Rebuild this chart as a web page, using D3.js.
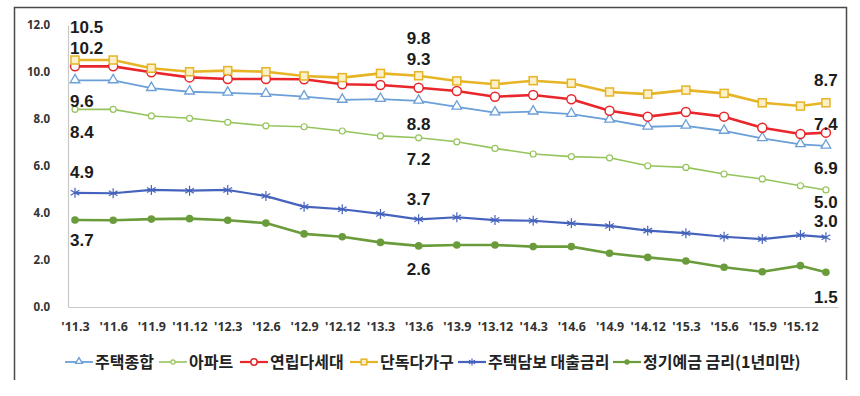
<!DOCTYPE html>
<html>
<head>
<meta charset="utf-8">
<script src="https://cdn.jsdelivr.net/npm/d3@7"></script>
<style>
    body { margin: 0; background: #fff; }
    text { font-family: "Noto Sans", "Noto Sans CJK KR", sans-serif; }
    .axis text { font-weight: bold; fill: #333; }
    .y.axis text { font-size: 11.5px; }
    .x.axis text { font-size: 12.5px; }
    .axis path { stroke: #c8c8c8; stroke-width: 1.2; }
    .value-label { font-family: "Liberation Sans", Arial, sans-serif; font-size: 17px; font-weight: bold; fill: #1c1c1c; }
    .legend text { font-family: "Noto Sans CJK KR", sans-serif; font-size: 16px; font-weight: bold; fill: #222; }
</style>
</head>
<body>
<div class="chart-container"></div>
<script>
// Data
const dates = [
    '2011-03', '2011-06', '2011-09', '2011-12', '2012-03', '2012-06', '2012-09',
    '2012-12', '2013-03', '2013-06', '2013-09', '2013-12', '2014-03', '2014-06',
    '2014-09', '2014-12', '2015-03', '2015-06', '2015-09', '2015-12', '2016-02'
];
const tickLabels = [
    "'11.3", "'11.6", "'11.9", "'11.12", "'12.3", "'12.6", "'12.9", "'12.12",
    "'13.3", "'13.6", "'13.9", "'13.12", "'14.3", "'14.6", "'14.9", "'14.12",
    "'15.3", "'15.6", "'15.9", "'15.12"
];
const seriesNames = ['주택종합', '아파트', '연립다세대', '단독다가구', '주택담보 대출금리', '정기예금 금리(1년미만)'];

const housingTotal = [9.64, 9.64, 9.31, 9.16, 9.11, 9.06, 8.95, 8.81, 8.85, 8.77, 8.52, 8.27, 8.31, 8.21, 7.96, 7.67, 7.71, 7.49, 7.18, 6.92, 6.86];
const apartment = [8.41, 8.41, 8.13, 8.03, 7.86, 7.71, 7.67, 7.49, 7.28, 7.20, 7.03, 6.75, 6.51, 6.40, 6.35, 6.01, 5.94, 5.66, 5.45, 5.16, 4.98];
const rowHouse = [10.24, 10.24, 9.99, 9.77, 9.70, 9.70, 9.69, 9.48, 9.45, 9.33, 9.19, 8.95, 9.02, 8.84, 8.35, 8.10, 8.30, 8.10, 7.63, 7.36, 7.42];
const detached = [10.51, 10.51, 10.16, 10.01, 10.06, 10.01, 9.83, 9.76, 9.94, 9.84, 9.62, 9.48, 9.63, 9.52, 9.15, 9.06, 9.23, 9.09, 8.69, 8.55, 8.69];
const mortgageRate = [4.86, 4.84, 4.98, 4.95, 4.98, 4.72, 4.27, 4.16, 3.96, 3.73, 3.82, 3.70, 3.67, 3.56, 3.45, 3.25, 3.14, 2.99, 2.89, 3.06, 2.97];
const depositRate = [3.70, 3.69, 3.74, 3.76, 3.69, 3.57, 3.11, 2.99, 2.75, 2.60, 2.64, 2.64, 2.57, 2.57, 2.29, 2.11, 1.96, 1.69, 1.50, 1.76, 1.48];

// points that carry a value label
const labelIndex = [0, 9, 20];

// Styles
const series = [
    { values: housingTotal, color: '#6a9fd8', width: 1.8, marker: 'triangle', labelDy: [20, 23, 22], legendX: 65 },
    { values: apartment, color: '#95c45c', width: 1.6, marker: 'smallCircle', labelDy: [23, 21, 11.5], legendX: 159 },
    { values: rowHouse, color: '#e8262b', width: 2.6, marker: 'circle', labelDy: [-18.5, -29, -9], legendX: 240 },
    { values: detached, color: '#e6b425', width: 2.6, marker: 'square', labelDy: [-33, -38, -23], legendX: 350 },
    { values: mortgageRate, color: '#4563bd', width: 2.2, marker: 'asterisk', labelDy: [-21, -20, -16], legendX: 458 },
    { values: depositRate, color: '#6b9c3c', width: 2.6, marker: 'dot', labelDy: [20, 23, 25], legendX: 613 }
];
series.forEach((s, i) => { s.name = seriesNames[i]; });

const monthIndex = dates.map(d => {
    const [y, m] = d.split('-').map(Number);
    return (y - 2011) * 12 + (m - 3);
});

const svgWidth = 860;
const svgHeight = 396;

const svg = d3.select('.chart-container')
    .append('svg')
    .attr('width', svgWidth)
    .attr('height', svgHeight);

// Frame (open at the bottom, as in the source image)
svg.append('path')
    .attr('d', 'M14.5,380V7.5H846.5V380')
    .attr('fill', 'none')
    .attr('stroke', '#4a4a4a')
    .attr('stroke-width', 1.5);

// Scales
const xScale = d3.scaleLinear().domain([-0.55, 59.95]).range([68, 838]);
const yScale = d3.scaleLinear().domain([0, 12]).range([307, 25]);

// Axes
const xAxis = d3.axisBottom(xScale)
    .tickValues(tickLabels.map((d, i) => i * 3))
    .tickFormat((d, i) => tickLabels[i])
    .tickSize(0)
    .tickPadding(15);
svg.append('g')
    .attr('class', 'x axis')
    .attr('transform', 'translate(0,' + yScale(0) + ')')
    .call(xAxis);

const yAxis = d3.axisLeft(yScale)
    .tickValues(d3.range(0, 13, 2))
    .tickFormat(d3.format('.1f'))
    .tickSize(0)
    .tickPadding(18);
svg.append('g')
    .attr('class', 'y axis')
    .attr('transform', 'translate(' + xScale.range()[0] + ',0)')
    .call(yAxis);

// Markers
function drawMarker(g, type, color, x, y, scale) {
    const k = scale || 1;
    if (type === 'triangle') {
        g.append('path')
            .attr('d', d3.symbol(d3.symbolTriangle, 40 * k * k)())
            .attr('transform', 'translate(' + x + ',' + (y - 0.5) + ')')
            .attr('fill', '#fff').attr('stroke', color).attr('stroke-width', 1.3);
    } else if (type === 'smallCircle') {
        g.append('circle').attr('cx', x).attr('cy', y).attr('r', 3 * k)
            .attr('fill', '#fff').attr('stroke', color).attr('stroke-width', 1.2);
    } else if (type === 'circle') {
        g.append('circle').attr('cx', x).attr('cy', y).attr('r', 4.5 * k)
            .attr('fill', '#fff').attr('stroke', color).attr('stroke-width', 1.5);
    } else if (type === 'square') {
        const s = 8 * k;
        g.append('rect').attr('x', x - s / 2).attr('y', y - s / 2).attr('width', s).attr('height', s)
            .attr('fill', '#fbf0c8').attr('stroke', color).attr('stroke-width', 1.5);
    } else if (type === 'asterisk') {
        g.append('path')
            .attr('d', d3.symbol(d3.symbolAsterisk, 70 * k * k)())
            .attr('transform', 'translate(' + x + ',' + y + ')')
            .attr('fill', 'none').attr('stroke', color).attr('stroke-width', 1.2);
    } else if (type === 'dot') {
        g.append('circle').attr('cx', x).attr('cy', y).attr('r', 3.8 * k)
            .attr('fill', color);
    }
}

// Lines
const line = d3.line()
    .x((d, i) => xScale(monthIndex[i]))
    .y(d => yScale(d));

series.forEach(s => {
    const g = svg.append('g').attr('class', 'series');
    g.append('path')
        .datum(s.values)
        .attr('d', line)
        .attr('fill', 'none')
        .attr('stroke', s.color)
        .attr('stroke-width', s.width)
        .attr('stroke-linejoin', 'round');
    s.values.forEach((v, i) => {
        drawMarker(g, s.marker, s.color, xScale(monthIndex[i]), yScale(v));
    });
});

// Value labels
series.forEach(s => {
    labelIndex.forEach((idx, j) => {
        const first = j === 0;
        svg.append('text')
            .attr('class', 'value-label')
            .attr('x', xScale(monthIndex[idx]) + (first ? -5 : 0))
            .attr('y', yScale(s.values[idx]) + s.labelDy[j])
            .attr('dy', '0.36em')
            .attr('text-anchor', first ? 'start' : 'middle')
            .text(d3.format('.1f')(s.values[idx]));
    });
});

// Legend
const legend = svg.append('g').attr('class', 'legend');
const ly = 362;
series.forEach(s => {
    const lx = s.legendX;
    const item = legend.append('g');
    item.append('line')
        .attr('x1', lx).attr('x2', lx + 28)
        .attr('y1', ly).attr('y2', ly)
        .attr('stroke', s.color)
        .attr('stroke-width', Math.min(s.width, 2.2));
    drawMarker(item, s.marker, s.color, lx + 14, ly, 0.7);
    item.append('text')
        .attr('x', lx + 30)
        .attr('y', ly)
        .attr('dy', '0.36em')
        .text(s.name);
});
</script>
</body>
</html>
